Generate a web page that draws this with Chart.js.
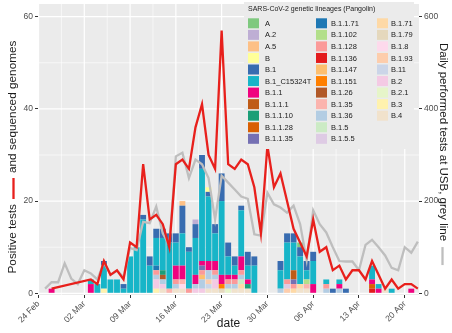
<!DOCTYPE html>
<html>
<head>
<meta charset="utf-8">
<title>SARS-CoV-2 lineages, positive tests and daily tests</title>
<script src="https://cdn.jsdelivr.net/npm/chart.js@4/dist/chart.umd.min.js"></script>
<style>
  html, body { margin: 0; padding: 0; background: #ffffff; }
  #wrap { width: 452px; height: 333px; position: relative; }
</style>
</head>
<body>
<div id="wrap"><canvas id="chart" width="452" height="333"></canvas></div>
<script>
// ---------------------------------------------------------------------------
// Data (year 2020, dates as MM-DD)
// ---------------------------------------------------------------------------
const YEAR = 2020;
const AXIS_START = '02-24';
const weekTicks = ['02-24', '03-02', '03-09', '03-16', '03-23', '03-30', '04-06', '04-13', '04-20'];

// Positive tests per day (red line, left axis)
const positiveDates = ['02-26', '03-03', '03-04', '03-05', '03-06', '03-07', '03-08', '03-09', '03-10',
  '03-11', '03-12', '03-13', '03-14', '03-15', '03-16', '03-17', '03-18', '03-19', '03-20', '03-21',
  '03-22', '03-23', '03-24', '03-25', '03-26', '03-27', '03-28', '03-29', '03-30', '03-31', '04-01',
  '04-02', '04-03', '04-04', '04-05', '04-06', '04-07', '04-08', '04-09', '04-10', '04-11', '04-12',
  '04-13', '04-14', '04-15', '04-16', '04-17', '04-18', '04-19', '04-20', '04-21', '04-22'];
const positiveTests = [1, 3, 2, 7, 4, 5, 3, 11, 10,
  28, 16, 17, 15, 10, 28, 29, 27, 36, 41, 30,
  27, 57, 28, 27, 29, 28, 23, 13, 32, 23, 26,
  20, 14, 11, 8, 16, 9, 10, 5, 6, 3, 5,
  5, 3, 7, 4, 1, 3, 1, 2, 2, 1];

// Daily performed tests at USB (grey line, right axis)
const testDates = ['02-25', '02-26', '02-27', '02-28', '02-29', '03-01', '03-02', '03-03', '03-04',
  '03-05', '03-06', '03-07', '03-08', '03-09', '03-10', '03-11', '03-12', '03-13', '03-14', '03-15',
  '03-16', '03-17', '03-18', '03-19', '03-20', '03-21', '03-22', '03-23', '03-24', '03-25', '03-26',
  '03-27', '03-28', '03-29', '03-30', '03-31', '04-01', '04-02', '04-03', '04-04', '04-05', '04-06',
  '04-07', '04-08', '04-09', '04-10', '04-11', '04-12', '04-13', '04-14', '04-15', '04-16', '04-17',
  '04-18', '04-19', '04-20', '04-21', '04-22'];
const dailyTests = [10, 24, 24, 65, 32, 20, 50, 43, 30,
  67, 40, 49, 35, 98, 94, 155, 152, 188, 130, 104,
  297, 305, 250, 290, 280, 250, 160, 255, 240, 225, 210,
  205, 128, 125, 218, 193, 186, 175, 190, 150, 72, 180,
  150, 132, 100, 70, 69, 69, 50, 105, 116, 100, 82,
  55, 50, 100, 88, 112];

// Sequenced genomes per lineage: [date, count]
const gA        = [['04-04', 1]];
const gA_2      = [['03-19', 1]];
const gA_5      = [['03-17', 1]];
const gB        = [['03-21', 1]];
const gB_1      = [['03-05', 1], ['03-08', 1], ['03-11', 1], ['03-12', 2], ['03-13', 2], ['03-14', 2],
  ['03-15', 2], ['03-16', 2], ['03-17', 6], ['03-18', 1], ['03-19', 3], ['03-20', 3], ['03-21', 1],
  ['03-22', 2], ['03-23', 6], ['03-24', 3], ['03-25', 2], ['03-26', 1], ['03-27', 3], ['03-28', 2],
  ['04-01', 2], ['04-02', 2], ['04-03', 2], ['04-04', 2], ['04-05', 2], ['04-06', 2], ['04-09', 1],
  ['04-11', 1]];
const gB_1_C15324T = [['03-03', 1], ['03-04', 2], ['03-05', 5], ['03-06', 3], ['03-07', 3], ['03-08', 1],
  ['03-09', 8], ['03-10', 10], ['03-11', 16], ['03-12', 6], ['03-13', 6], ['03-14', 7], ['03-15', 10],
  ['03-16', 5], ['03-17', 7], ['03-18', 8], ['03-19', 8], ['03-20', 20], ['03-21', 14], ['03-22', 6],
  ['03-23', 16], ['03-24', 4], ['03-25', 2], ['03-26', 10], ['03-27', 3], ['03-28', 6], ['04-01', 4],
  ['04-02', 8], ['04-03', 6], ['04-04', 6], ['04-05', 2], ['04-06', 5], ['04-08', 1], ['04-10', 1],
  ['04-15', 3], ['04-16', 1], ['04-18', 1]];
const gB_1_1    = [['02-26', 1], ['03-03', 2], ['03-16', 3], ['03-17', 3], ['03-19', 2], ['03-20', 1],
  ['03-21', 2], ['03-22', 2], ['03-23', 2], ['03-24', 1], ['03-25', 1], ['03-26', 3], ['03-27', 1],
  ['04-06', 2], ['04-10', 1], ['04-15', 1], ['04-16', 1], ['04-21', 1]];
const gB_1_1_1  = [['04-03', 2]];
const gB_1_1_10 = [['03-14', 1], ['03-27', 1]];
const gB_1_1_28 = [['04-15', 1]];
const gB_1_1_35 = [['03-20', 1], ['04-03', 1]];
const gB_1_1_71 = [['03-13', 1]];
const gB_1_102  = [['04-05', 1]];
const gB_1_128  = [['03-13', 1], ['03-16', 1], ['03-18', 1], ['03-20', 1], ['03-22', 1], ['03-24', 1],
  ['03-25', 1], ['03-26', 1], ['04-02', 1], ['04-03', 1], ['04-08', 1]];
const gB_1_136  = [['04-15', 1]];
const gB_1_147  = [['03-20', 1]];
const gB_1_151  = [['03-23', 1]];
const gB_1_26   = [['03-14', 1]];
const gB_1_35   = [['03-15', 1], ['03-17', 1], ['04-05', 1]];
const gB_1_36   = [['03-13', 1], ['03-14', 1], ['03-16', 1], ['03-19', 1], ['03-20', 2], ['03-21', 2],
  ['03-22', 1], ['03-24', 1], ['03-25', 1], ['03-26', 1], ['04-01', 1], ['04-08', 1], ['04-10', 1]];
const gB_1_5    = [['03-26', 1]];
const gB_1_5_5  = [['04-02', 1]];
const gB_1_71   = [['03-26', 1], ['04-03', 1], ['04-04', 1]];
const gB_1_79   = [['03-23', 1]];
const gB_1_8    = [['03-17', 1]];
const gB_1_93   = [['03-21', 1], ['04-02', 1]];
const gB_11     = [['03-21', 1]];
const gB_2      = [['03-13', 2], ['03-14', 1], ['03-19', 1], ['03-20', 1], ['03-22', 2]];
const gB_2_1    = [['03-24', 1]];
const gB_3      = [['03-05', 1], ['03-13', 1]];
const gB_4      = [['03-14', 1], ['03-16', 1], ['03-17', 1], ['03-21', 1], ['03-22', 1], ['03-25', 1],
  ['03-26', 1], ['03-27', 1], ['04-04', 1], ['04-05', 1], ['04-17', 1]];

// Lineage names in legend order (first name sits on top of each bar)
const lineageNames = ['A', 'A.2', 'A.5', 'B', 'B.1', 'B.1_C15324T', 'B.1.1', 'B.1.1.1', 'B.1.1.10',
  'B.1.1.28', 'B.1.1.35', 'B.1.1.71', 'B.1.102', 'B.1.128', 'B.1.136', 'B.1.147', 'B.1.151', 'B.1.26',
  'B.1.35', 'B.1.36', 'B.1.5', 'B.1.5.5', 'B.1.71', 'B.1.79', 'B.1.8', 'B.1.93', 'B.11', 'B.2',
  'B.2.1', 'B.3', 'B.4'];
const lineageCounts = [gA, gA_2, gA_5, gB, gB_1, gB_1_C15324T, gB_1_1, gB_1_1_1, gB_1_1_10,
  gB_1_1_28, gB_1_1_35, gB_1_1_71, gB_1_102, gB_1_128, gB_1_136, gB_1_147, gB_1_151, gB_1_26,
  gB_1_35, gB_1_36, gB_1_5, gB_1_5_5, gB_1_71, gB_1_79, gB_1_8, gB_1_93, gB_11, gB_2,
  gB_2_1, gB_3, gB_4];
const lineageColors = ['#7FC97F', '#BEAED4', '#FDC086', '#FFFF99', '#386CB0', '#17B5C8', '#F0027F',
  '#BF5B17', '#1B9E77', '#D95F02', '#7570B3', '#1F78B4', '#B2DF8A', '#FB9A99', '#E31A1C', '#FDBF6F',
  '#FF7F00', '#B15928', '#FBB4AE', '#B3CDE3', '#CCEBC5', '#DECBE4', '#FED9A6', '#E5D8BD', '#FDDAEC',
  '#FDCDAC', '#CBD5E8', '#F4CAE4', '#E6F5C9', '#FFF2AE', '#F1E2CC'];

// ---------------------------------------------------------------------------
// Helpers
// ---------------------------------------------------------------------------
const MONTHS = ['Jan', 'Feb', 'Mar', 'Apr', 'May', 'Jun', 'Jul', 'Aug', 'Sep', 'Oct', 'Nov', 'Dec'];
const toUTC = md => Date.UTC(YEAR, parseInt(md.slice(0, 2), 10) - 1, parseInt(md.slice(3), 10));
const ORIGIN = toUTC(AXIS_START);
const dayIndex = md => Math.round((toUTC(md) - ORIGIN) / 86400000);
const dayLabel = d => {
  const dt = new Date(ORIGIN + d * 86400000);
  return String(dt.getUTCDate()).padStart(2, '0') + ' ' + MONTHS[dt.getUTCMonth()];
};

const FONT = "'Liberation Sans', Arial, Helvetica, sans-serif";
const AXIS_TEXT = '#4d4d4d';
const PANEL_BG = '#ebebeb';
const RED = '#e8201c';
const GREY = '#bebebe';

// Stacked bar datasets: pushed bottom-first so the first legend entry ends up on top
const barDatasets = [];
for (let i = lineageNames.length - 1; i >= 0; i--) {
  barDatasets.push({
    type: 'bar',
    label: lineageNames[i],
    data: lineageCounts[i].map(([d, n]) => ({ x: dayIndex(d), y: n })),
    backgroundColor: lineageColors[i],
    borderWidth: 0,
    stack: 'genomes',
    yAxisID: 'y',
    barPercentage: 1.0,
    categoryPercentage: 0.9,
    order: 3
  });
}

const positiveLine = {
  type: 'line',
  label: 'Positive tests',
  data: positiveDates.map((d, i) => ({ x: dayIndex(d), y: positiveTests[i] })),
  borderColor: RED,
  borderWidth: 2.3,
  pointRadius: 0,
  tension: 0,
  yAxisID: 'yPos',
  order: 1
};

const testsLine = {
  type: 'line',
  label: 'Daily performed tests',
  data: testDates.map((d, i) => ({ x: dayIndex(d), y: dailyTests[i] })),
  borderColor: GREY,
  borderWidth: 2.3,
  pointRadius: 0,
  tension: 0,
  yAxisID: 'yTests',
  order: 2
};

// ---------------------------------------------------------------------------
// Plugins: panel background with major/minor grid, legend box, axis titles
// ---------------------------------------------------------------------------
const panelPlugin = {
  id: 'panel',
  beforeDraw(chart) {
    const { ctx, chartArea: a, scales } = chart;
    const x = scales.x, y = scales.y;
    ctx.save();
    ctx.fillStyle = PANEL_BG;
    ctx.fillRect(a.left, a.top, a.right - a.left, a.bottom - a.top);
    ctx.strokeStyle = '#ffffff';
    // minor grid
    ctx.lineWidth = 0.6;
    [10, 30, 50].forEach(v => {
      const py = y.getPixelForValue(v);
      ctx.beginPath(); ctx.moveTo(a.left, py); ctx.lineTo(a.right, py); ctx.stroke();
    });
    weekTicks.forEach(t => {
      const px = x.getPixelForValue(dayIndex(t) + 3.5);
      if (px < a.right) { ctx.beginPath(); ctx.moveTo(px, a.top); ctx.lineTo(px, a.bottom); ctx.stroke(); }
    });
    // major grid
    ctx.lineWidth = 1.2;
    [0, 20, 40, 60].forEach(v => {
      const py = y.getPixelForValue(v);
      ctx.beginPath(); ctx.moveTo(a.left, py); ctx.lineTo(a.right, py); ctx.stroke();
    });
    weekTicks.forEach(t => {
      const px = x.getPixelForValue(dayIndex(t));
      ctx.beginPath(); ctx.moveTo(px, a.top); ctx.lineTo(px, a.bottom); ctx.stroke();
    });
    ctx.restore();
  }
};

const legendPlugin = {
  id: 'lineageLegend',
  afterDraw(chart) {
    const ctx = chart.ctx;
    const box = { x: 244, y: 2, w: 170, h: 147 };
    const cols = [248, 316, 377];
    const labelGap = [17, 15, 14];
    const rowsPerCol = 11;
    const firstRow = 23.3, rowStep = 11.55, key = 11;
    ctx.save();
    ctx.fillStyle = PANEL_BG;
    ctx.fillRect(box.x, box.y, box.w, box.h);
    ctx.fillStyle = '#1a1a1a';
    ctx.textBaseline = 'middle';
    ctx.textAlign = 'left';
    ctx.font = '7px ' + FONT;
    ctx.fillText('SARS-CoV-2 genetic lineages (Pangolin)', 248, 9.5);
    ctx.font = '7.5px ' + FONT;
    lineageNames.forEach((name, i) => {
      const c = Math.floor(i / rowsPerCol), r = i % rowsPerCol;
      const cy = firstRow + r * rowStep;
      ctx.fillStyle = lineageColors[i];
      ctx.fillRect(cols[c], cy - 5, key, 10);
      ctx.fillStyle = '#1a1a1a';
      ctx.fillText(name, cols[c] + labelGap[c], cy + 0.5);
    });
    ctx.restore();
  }
};

function drawTitleWithKey(ctx, parts, cx, cy, angle, font, gap) {
  // parts: strings and {line: colour, len: px}; gap = space around a line key
  ctx.save();
  ctx.font = font;
  const widths = parts.map(p => typeof p === 'string' ? ctx.measureText(p).width : p.len + 2 * gap);
  const total = widths.reduce((s, w) => s + w, 0);
  ctx.translate(cx, cy);
  ctx.rotate(angle);
  ctx.textBaseline = 'middle';
  ctx.textAlign = 'left';
  let pos = -total / 2;
  parts.forEach((p, i) => {
    if (typeof p === 'string') {
      ctx.fillStyle = '#1a1a1a';
      ctx.fillText(p, pos, 0);
    } else {
      ctx.strokeStyle = p.line;
      ctx.lineWidth = 2.3;
      ctx.beginPath();
      ctx.moveTo(pos + gap, 0.5);
      ctx.lineTo(pos + gap + p.len, 0.5);
      ctx.stroke();
    }
    pos += widths[i];
  });
  ctx.restore();
}

const titlePlugin = {
  id: 'axisTitles',
  afterDraw(chart) {
    const { ctx, chartArea: a } = chart;
    const titleY = 157;
    drawTitleWithKey(ctx, ['Positive tests', { line: RED, len: 21 }, 'and sequenced genomes'],
      13, titleY, -Math.PI / 2, '11.8px ' + FONT, 5);
    drawTitleWithKey(ctx, ['Daily performed tests at USB, grey line', { line: GREY, len: 18 }],
      443, titleY, Math.PI / 2, '11.5px ' + FONT, 6);
    ctx.save();
    ctx.font = '12px ' + FONT;
    ctx.fillStyle = '#1a1a1a';
    ctx.textAlign = 'center';
    ctx.textBaseline = 'middle';
    ctx.fillText('date', (a.left + a.right) / 2, 324);
    ctx.restore();
  }
};

// ---------------------------------------------------------------------------
// Chart
// ---------------------------------------------------------------------------
const tickFont = { family: FONT, size: 8.5 };
const tickGrid = { display: true, drawOnChartArea: false, drawTicks: true, tickLength: 3, tickColor: '#333333', tickWidth: 1 };
const noPad = s => { s.paddingTop = 0; s.paddingBottom = 0; s.paddingLeft = 0; s.paddingRight = 0; };

new Chart(document.getElementById('chart'), {
  type: 'bar',
  data: { datasets: [positiveLine, testsLine, ...barDatasets] },
  plugins: [panelPlugin, legendPlugin, titlePlugin],
  options: {
    responsive: false,
    animation: false,
    devicePixelRatio: 1,
    layout: { padding: { top: 4, left: 0, right: 0, bottom: 0 } },
    plugins: { legend: { display: false }, tooltip: { enabled: false } },
    scales: {
      x: {
        type: 'linear',
        min: -0.08,
        max: 58.18,
        offset: false,
        afterBuildTicks: s => { s.ticks = weekTicks.map(t => ({ value: dayIndex(t) })); },
        afterFit: s => { s.height = 38; noPad(s); },
        ticks: {
          autoSkip: false, minRotation: 45, maxRotation: 45, padding: 1,
          font: tickFont, color: AXIS_TEXT,
          callback: v => dayLabel(v)
        },
        grid: { ...tickGrid, offset: false },
        border: { display: false }
      },
      y: {
        position: 'left',
        min: -0.37,
        max: 62.75,
        afterBuildTicks: s => { s.ticks = [0, 20, 40, 60].map(v => ({ value: v })); },
        afterFit: s => { s.width = 38; noPad(s); },
        ticks: { padding: 2, font: tickFont, color: AXIS_TEXT },
        grid: tickGrid,
        border: { display: false }
      },
      yPos: {
        display: false,
        min: -0.37,
        max: 62.75
      },
      yTests: {
        position: 'right',
        min: -3.7,
        max: 627.5,
        afterBuildTicks: s => { s.ticks = [0, 200, 400, 600].map(v => ({ value: v })); },
        afterFit: s => { s.width = 33; noPad(s); },
        ticks: { padding: 2, font: tickFont, color: AXIS_TEXT },
        grid: tickGrid,
        border: { display: false }
      }
    }
  }
});
</script>
</body>
</html>
